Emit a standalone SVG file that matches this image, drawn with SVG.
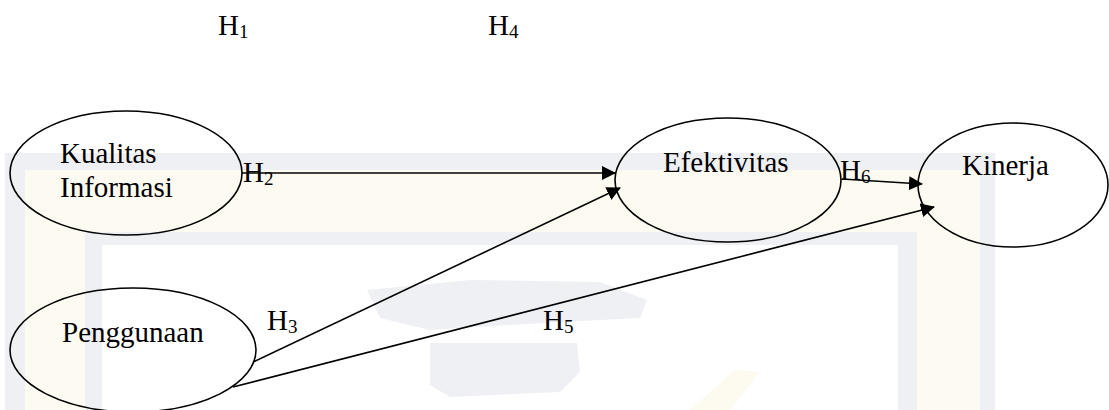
<svg xmlns="http://www.w3.org/2000/svg" width="1109" height="410" viewBox="0 0 1109 410">
  <style>
    .node { fill: none; stroke: #000; stroke-width: 1.6; }
    .label { font-family: "Liberation Serif", "Times New Roman", serif; font-size: 29px; fill: #000; }
    .sub { font-size: 19px; }
    .edge { stroke: #000; stroke-width: 1.6; fill: none; marker-end: url(#arrow); }
    .wm-gray { fill: #eff0f3; }
    .wm-cream { fill: #fdfbf1; }
  </style>
  <defs>
    <marker id="arrow" viewBox="0 0 14 14" refX="13" refY="7" markerWidth="14" markerHeight="14" markerUnits="userSpaceOnUse" orient="auto">
      <path d="M0,0 L14,7 L0,14 Z" fill="#000"/>
    </marker>
  </defs>

  <rect width="1109" height="410" fill="#fff"/>

  <!-- faint background watermark -->
  <g id="watermark">
    <rect class="wm-gray" x="5" y="153" width="990" height="257"/>
    <rect class="wm-cream" x="25" y="170" width="955" height="240"/>
    <rect class="wm-gray" x="85" y="232" width="832" height="178"/>
    <rect fill="#fff" x="102" y="245" width="796" height="165"/>
    <polygon class="wm-gray" points="367,290 470,280 600,282 647,300 640,318 560,322 430,330 380,318"/>
    <polygon class="wm-gray" points="430,343 577,343 580,372 560,392 450,397 430,385"/>
    <polygon fill="#fdfaf0" points="690,410 735,370 760,372 730,410"/>
  </g>

  <!-- connectors -->
  <g id="connectors">
    <line class="edge" x1="242" y1="173" x2="615" y2="173"/>
    <line class="edge" x1="253" y1="362" x2="620" y2="188"/>
    <line class="edge" x1="233" y1="387" x2="934" y2="207"/>
    <line class="edge" x1="842" y1="179" x2="922" y2="184"/>
  </g>

  <g id="kualitas-informasi">
    <ellipse class="node" cx="126" cy="173" rx="116" ry="62"/>
    <text class="label" x="60" y="163">Kualitas</text>
    <text class="label" x="60" y="197">Informasi</text>
  </g>

  <g id="penggunaan">
    <ellipse class="node" cx="133" cy="350" rx="123" ry="62"/>
    <text class="label" x="62" y="342">Penggunaan</text>
  </g>

  <g id="efektivitas">
    <ellipse class="node" cx="728" cy="180" rx="113" ry="62"/>
    <text class="label" x="663" y="172">Efektivitas</text>
  </g>

  <g id="kinerja">
    <ellipse class="node" cx="1013" cy="185" rx="95" ry="62"/>
    <text class="label" x="962" y="175">Kinerja</text>
  </g>

  <!-- hypothesis labels -->
  <g id="hypotheses">
    <text class="label" x="218" y="35">H<tspan class="sub" dy="3">1</tspan></text>
    <text class="label" x="488" y="35">H<tspan class="sub" dy="3">4</tspan></text>
    <text class="label" x="243" y="182">H<tspan class="sub" dy="3">2</tspan></text>
    <text class="label" x="267" y="330">H<tspan class="sub" dy="3">3</tspan></text>
    <text class="label" x="543" y="330">H<tspan class="sub" dy="3">5</tspan></text>
    <text class="label" x="840" y="180">H<tspan class="sub" dy="3">6</tspan></text>
  </g>
</svg>
